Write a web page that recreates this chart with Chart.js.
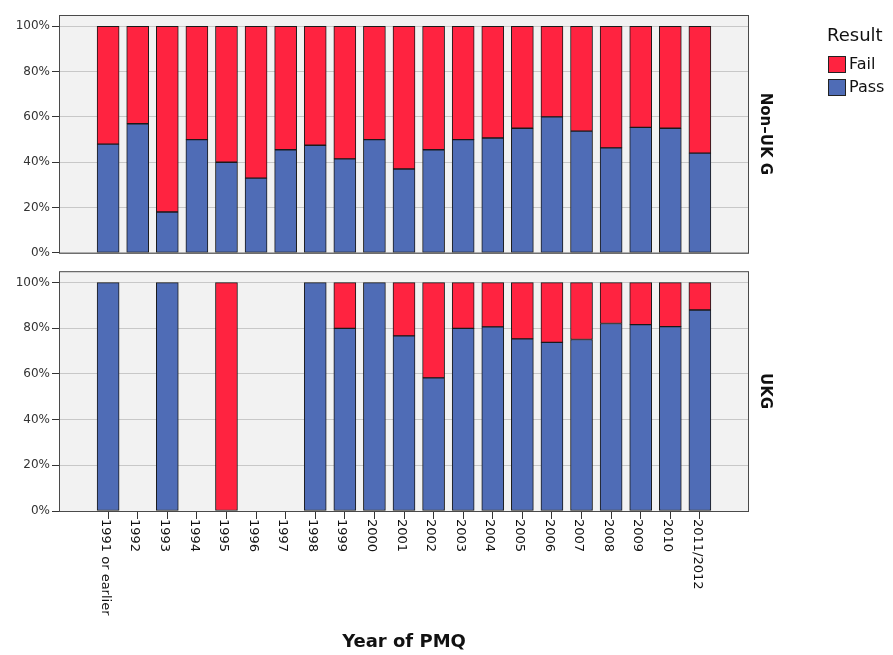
<!DOCTYPE html>
<html>
<head>
<meta charset="utf-8">
<script src="https://cdn.jsdelivr.net/npm/chart.js@4.4.1/dist/chart.umd.min.js"></script>
<style>
  body { margin: 0; background: #fff; }
  #wrap { position: relative; width: 893px; height: 655px; }
  #top { position: absolute; left: 0; top: 0; width: 893px; height: 262px; }
  #bot { position: absolute; left: 0; top: 262px; width: 893px; height: 393px; }
</style>
</head>
<body>
<div id="wrap">
  <div id="top"><canvas id="chartTop"></canvas></div>
  <div id="bot"><canvas id="chartBot"></canvas></div>
</div>
<script>
// categorias (Year of PMQ)
var years = ['1991 or earlier', '1992', '1993', '1994', '1995', '1996', '1997', '1998', '1999', '2000',
  '2001', '2002', '2003', '2004', '2005', '2006', '2007', '2008', '2009', '2010', '2011/2012'];

// % Pass / Fail por panel
var passNonUK = [48, 57, 18, 50, 40, 33, 45.5, 47.5, 41.5, 50, 37, 45.5, 50, 50.7, 55, 60, 53.7, 46.3, 55.4, 55, 44];
var failNonUK = [52, 43, 82, 50, 60, 67, 54.5, 52.5, 58.5, 50, 63, 54.5, 50, 49.3, 45, 40, 46.3, 53.7, 44.6, 45, 56];
var passUK = [100, null, 100, null, null, null, null, 100, 80, 100, 76.7, 58.3, 80, 80.6, 75.4, 73.8, 75.1, 82.1, 81.6, 80.7, 88];
var failUK = [null, null, null, null, 100, null, null, null, 20, null, 23.3, 41.7, 20, 19.4, 24.6, 26.2, 24.9, 17.9, 18.4, 19.3, 12];

var yTicks = [0, 20, 40, 60, 80, 100];

var colorPass = '#4f6cb6';
var colorFail = '#ff2340';
var fuente = 'DejaVu Sans';

function puntos(arr) {
    return arr.map(function (v, i) { return { x: i, y: v }; });
}

var marco = {
    id: 'marco',
    beforeDraw: function (chart) {
        var a = chart.chartArea, ctx = chart.ctx;
        ctx.save();
        ctx.fillStyle = '#f2f2f2';
        ctx.fillRect(a.left, a.top, a.right - a.left, a.bottom - a.top);
        ctx.restore();
    },
    afterDatasetsDraw: function (chart) {
        var a = chart.chartArea, ctx = chart.ctx;
        ctx.save();
        ctx.strokeStyle = '#4a4a4a';
        ctx.lineWidth = 1;
        ctx.strokeRect(a.left + 0.5, a.top + 0.5, a.right - a.left - 1, a.bottom - a.top);
        ctx.restore();
    }
};

function textoVertical(ctx, txt, x, y, font, align) {
    ctx.save();
    ctx.translate(x, y);
    ctx.rotate(Math.PI / 2);
    ctx.font = font;
    ctx.fillStyle = '#111';
    ctx.textAlign = align;
    ctx.textBaseline = 'middle';
    ctx.fillText(txt, 0, 0);
    ctx.restore();
}

function opciones(esAbajo, etiqueta) {
    return {
        responsive: true,
        maintainAspectRatio: false,
        animation: false,
        layout: {
            padding: esAbajo ? { left: 9, right: 144, top: 5, bottom: 136 }
                             : { left: 9, right: 144, top: 15, bottom: 2 }
        },
        plugins: {
            legend: { display: false },
            tooltip: { enabled: false },
            etiquetas: { etiqueta: etiqueta, abajo: esAbajo }
        },
        scales: {
            x: {
                type: 'linear',
                stacked: true,
                offset: false,
                display: esAbajo,
                min: -1.66,
                max: 21.66,
                afterBuildTicks: function (scale) {
                    scale.ticks = years.map(function (y, i) { return { value: i }; });
                },
                ticks: { display: false },
                grid: { offset: false, drawOnChartArea: false, drawTicks: true, tickLength: 8, color: '#333' },
                border: { display: false }
            },
            y: {
                stacked: true,
                min: 0,
                max: 105,
                afterBuildTicks: function (scale) {
                    scale.ticks = yTicks.map(function (v) { return { value: v }; });
                },
                afterFit: function (scale) { scale.width = 50; },
                ticks: {
                    padding: 2,
                    color: '#333',
                    font: { family: fuente, size: 12 },
                    callback: function (v) { return v + '%'; }
                },
                grid: { color: '#c8c8c8', tickColor: '#333', tickLength: 7 },
                border: { display: false }
            }
        }
    };
}

var etiquetas = {
    id: 'etiquetas',
    afterDraw: function (chart, args, opts) {
        var ctx = chart.ctx, a = chart.chartArea;
        var midY = (a.top + a.bottom) / 2;
        textoVertical(ctx, opts.etiqueta, 765, midY, 'bold 15px ' + fuente, 'center');

        if (opts.abajo) {
            var sx = chart.scales.x;
            years.forEach(function (y, i) {
                textoVertical(ctx, y, sx.getPixelForValue(i) - 3, a.bottom + 8, '13px ' + fuente, 'left');
            });
            ctx.save();
            ctx.font = 'bold 18px ' + fuente;
            ctx.fillStyle = '#111';
            ctx.textAlign = 'center';
            ctx.textBaseline = 'middle';
            ctx.fillText('Year of PMQ', (a.left + a.right) / 2, 380);
            ctx.restore();
        } else {
            // leyenda
            ctx.save();
            ctx.fillStyle = '#111';
            ctx.textBaseline = 'middle';
            ctx.font = '18px ' + fuente;
            ctx.fillText('Result', 827, 36);
            ctx.font = '16px ' + fuente;
            var items = [['Fail', colorFail, 65], ['Pass', colorPass, 88]];
            items.forEach(function (it) {
                ctx.fillStyle = it[1];
                ctx.fillRect(828.5, it[2] - 8.5, 17, 16);
                ctx.strokeStyle = '#222';
                ctx.lineWidth = 1;
                ctx.strokeRect(828.5, it[2] - 8.5, 17, 16);
                ctx.fillStyle = '#111';
                ctx.fillText(it[0], 849, it[2]);
            });
            ctx.restore();
        }
    }
};

function barras(label, datos, color) {
    return {
        label: label,
        data: puntos(datos),
        backgroundColor: color,
        borderColor: '#1a1a1a',
        borderWidth: 1,
        borderSkipped: false,
        barThickness: 22
    };
}

new Chart(document.getElementById('chartTop'), {
    type: 'bar',
    data: {
        datasets: [
            barras('Pass', passNonUK, colorPass),
            barras('Fail', failNonUK, colorFail)
        ]
    },
    options: opciones(false, 'Non\u2013UK G'),
    plugins: [marco, etiquetas]
});

new Chart(document.getElementById('chartBot'), {
    type: 'bar',
    data: {
        datasets: [
            barras('Pass', passUK, colorPass),
            barras('Fail', failUK, colorFail)
        ]
    },
    options: opciones(true, 'UKG'),
    plugins: [marco, etiquetas]
});
</script>
</body>
</html>
